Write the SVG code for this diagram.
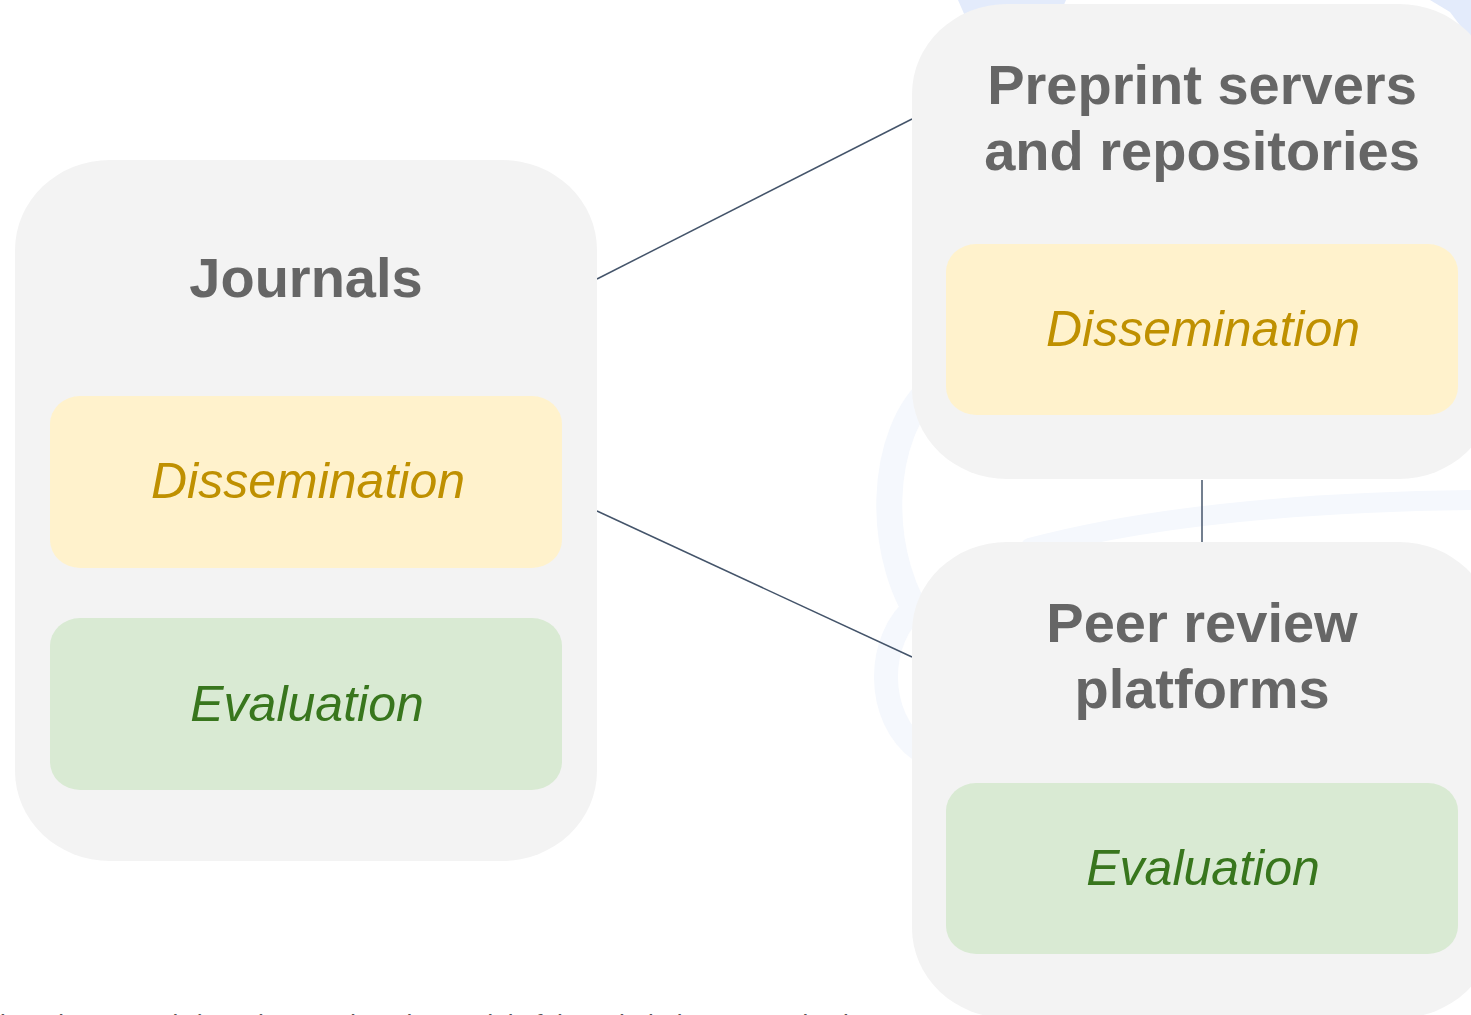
<svg xmlns="http://www.w3.org/2000/svg" width="1471" height="1015" viewBox="0 0 1471 1015">
  <style>
    .box { fill: #f3f3f3; }
    .diss { fill: #fff2cc; }
    .eval { fill: #d9ead3; }
    .title { font-family: "Liberation Sans", Arial, sans-serif; font-weight: bold; font-size: 56px; fill: #666666; text-anchor: middle; }
    .lab { font-family: "Liberation Sans", Arial, sans-serif; font-style: italic; font-size: 50px; text-anchor: middle; }
    .dtxt { fill: #bf9000; }
    .etxt { fill: #38761d; }
    .conn { stroke: #44546a; stroke-width: 1.5; fill: none; }
    .swirl { fill: none; stroke: #f5f8fd; stroke-linecap: round; }
  </style>
  <rect width="1471" height="1015" fill="#ffffff"/>
  <g id="background">
    <path d="M958,0 L1066,0 L1060,14 L965,16 Z" fill="#e3ebfb"/>
    <path d="M1430,0 L1471,0 L1471,40 L1450,12 Z" fill="#e3ebfb"/>
    <path class="swirl" stroke-width="26" d="M935,385 C878,430 872,560 930,632"/>
    <path class="swirl" stroke-width="24" d="M918,605 C875,638 875,718 920,750"/>
    <path class="swirl" stroke-width="20" d="M1030,548 C1150,516 1300,502 1471,500"/>
  </g>
  <g id="connectors">
    <line class="conn" x1="597" y1="279" x2="912" y2="119"/>
    <line class="conn" x1="597" y1="511" x2="912" y2="657"/>
    <line class="conn" x1="1202" y1="480" x2="1202" y2="542"/>
  </g>
  <g id="journals">
    <rect class="box" x="15" y="160" width="582" height="701" rx="95" ry="90"/>
    <text class="title" x="306" y="297">Journals</text>
    <g id="journals-dissemination">
      <rect class="diss" x="50" y="396" width="512" height="172" rx="30" ry="28"/>
      <text class="lab dtxt" x="308" y="498">Dissemination</text>
    </g>
    <g id="journals-evaluation">
      <rect class="eval" x="50" y="618" width="512" height="172" rx="30" ry="28"/>
      <text class="lab etxt" x="307" y="721">Evaluation</text>
    </g>
  </g>
  <g id="preprint">
    <rect class="box" x="912" y="4" width="582" height="475" rx="95" ry="90"/>
    <text class="title" x="1202" y="104">Preprint servers</text>
    <text class="title" x="1202" y="170">and repositories</text>
    <g id="preprint-dissemination">
      <rect class="diss" x="946" y="244" width="512" height="171" rx="30" ry="28"/>
      <text class="lab dtxt" x="1203" y="346">Dissemination</text>
    </g>
  </g>
  <g id="peerreview">
    <rect class="box" x="912" y="542" width="582" height="476" rx="95" ry="90"/>
    <text class="title" x="1202" y="642">Peer review</text>
    <text class="title" x="1202" y="708">platforms</text>
    <g id="peerreview-evaluation">
      <rect class="eval" x="946" y="783" width="512" height="171" rx="30" ry="28"/>
      <text class="lab etxt" x="1203" y="885">Evaluation</text>
    </g>
  </g>
  <text x="0" y="1033" font-family="Liberation Sans, Arial, sans-serif" font-size="26" fill="#555555">i. Waltman et al. (2020). Based on the model of the scholarly communication system</text>
</svg>
